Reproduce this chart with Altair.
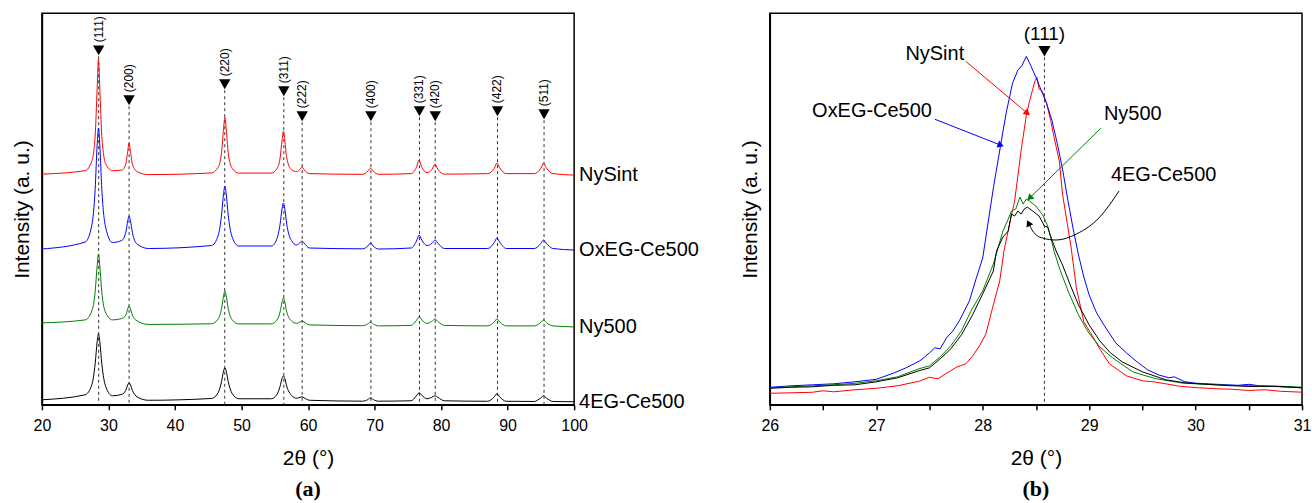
import altair as alt
import pandas as pd

SERIES = ["NySint", "OxEG-Ce500", "Ny500", "4EG-Ce500"]
COLORS = ["#ff0000", "#0000ff", "#008000", "#000000"]

# ---------------- Panel (a): stacked XRD patterns (y in arbitrary units) ----------------
A_X = [20, 26.5, 27.5, 28.0, 28.3, 28.5, 28.7, 29.0, 29.6, 30.6,
       32.0, 32.6, 32.9, 33.1, 33.3, 33.6, 34.3, 36.0,
       45.5, 46.5, 47.0, 47.3, 47.5, 47.7, 48.0, 48.6, 49.6,
       54.5, 55.3, 55.8, 56.1, 56.3, 56.5, 56.8, 57.5,
       58.3, 58.8, 59.1, 59.4, 60.2,
       68.2, 69.0, 69.4, 69.8, 70.6,
       75.5, 76.3, 76.7, 77.1, 77.9, 78.6, 79.1, 79.5, 80.5,
       87.0, 88.0, 88.4, 88.8, 89.8,
       94.0, 95.0, 95.4, 95.8, 96.8, 100]
A_NYSINT = [231, 234.5, 244, 269, 317, 346, 317, 269, 241, 234.5,
            235, 241, 254, 262, 254, 241, 233.5, 230.5,
            232.2, 238, 252.6, 276.4, 288, 276.4, 252.6, 236.8, 232,
            232, 236.2, 247.2, 265.2, 274, 265.2, 247.2, 235.5,
            233.5, 236, 238, 235.5, 231.5,
            230.8, 234, 237, 234, 230.8,
            231.5, 238, 245, 238, 232.5, 235.5, 241, 236, 231,
            231.5, 237, 242, 237.5, 231.5,
            231.5, 237, 242, 237.5, 231.5, 230]
A_OXEG = [156, 163, 180, 216, 260, 277, 260, 216, 177, 162.5,
          164.6, 172.5, 184.4, 189, 184.4, 172.5, 161, 156.5,
          159.5, 169.7, 190.2, 211.3, 219, 211.3, 190.2, 167.8, 159,
          159, 165.8, 180.9, 196.4, 202, 196.4, 180.9, 164.5,
          160, 162.5, 164, 162, 157,
          156.2, 159, 162, 159, 156,
          157, 164, 170, 165, 159.5, 161.5, 165, 162, 156.5,
          156.5, 162.5, 167, 163, 156.5,
          156.5, 161.5, 165, 162, 156.5, 155]
A_NY500 = [82, 85, 94, 113, 139, 151, 139, 113, 92, 85,
           86.4, 89.7, 96, 99, 96, 89.7, 84, 80.5,
           81.1, 86, 96.5, 109, 114, 109, 96.5, 85, 81,
           81, 84.6, 93, 103, 107, 103, 93, 84.2,
           81.5, 83, 84, 83, 80,
           79.2, 81, 83, 81, 79,
           79.5, 84.5, 88, 85, 81.5, 83.5, 86, 83.5, 79.5,
           79, 83, 86, 83, 79,
           79, 82.5, 85, 82.5, 79, 78]
A_4EG = [5, 10, 20, 41, 63, 71, 63, 41, 18, 9,
         10.4, 14.4, 20, 22, 20, 14.4, 7.9, 4.5,
         6.3, 12.2, 23.3, 33.7, 37, 33.7, 23.3, 11.2, 6,
         6, 10.1, 18.5, 26.5, 29, 26.5, 18.5, 9.6,
         6.5, 7.5, 8, 7, 4.5,
         3.6, 5.2, 7, 5.2, 3.6,
         4, 9, 12, 9.5, 6, 7.5, 9, 7.5, 4,
         3.5, 8, 11, 8, 3.5,
         3.3, 7, 9, 7, 3.3, 3]

HKL = ["(111)", "(200)", "(220)", "(311)", "(222)", "(400)", "(331)", "(420)", "(422)", "(511)"]
HKL_POS = [28.53, 33.1, 47.48, 56.36, 59.12, 69.45, 76.75, 79.12, 88.48, 95.48]
HKL_MARK = [355, 305, 321, 314, 289, 289, 294, 289, 294, 291]

A_TICKS = [20, 25, 30, 35, 40, 45, 50, 55, 60, 65, 70, 75, 80, 85, 90, 95, 100]

# ---------------- Panel (b): (111) peak zoom ----------------
B_NYSINT_X = [26.0, 26.2, 26.4, 26.5, 26.6, 26.8, 27.0, 27.2, 27.4, 27.5,
              27.58, 27.65, 27.7, 27.75, 27.84, 27.9, 27.97, 28.03, 28.09, 28.16,
              28.2, 28.25, 28.3, 28.36, 28.41, 28.44, 28.49, 28.51, 28.53, 28.56,
              28.6, 28.64, 28.67, 28.72, 28.75, 28.8, 28.83, 28.88, 28.95, 29.03,
              29.1, 29.19, 29.27, 29.35, 29.5, 29.6, 29.72, 29.85, 30.03, 30.2,
              30.35, 30.5, 30.65, 30.8, 31.0]
B_NYSINT_Y = [11.5, 12, 12.5, 14, 13, 15, 16.5, 19, 23.5, 27.5,
              26, 31, 34, 37.5, 41, 48, 59, 71, 96, 124,
              154, 180, 204, 254, 290, 304, 324, 328, 316, 314,
              302, 284, 268, 244, 211, 178, 158, 117, 83, 69,
              56, 41, 35, 29, 24, 23, 21, 18.5, 17, 16,
              15.5, 14.3, 15, 13.5, 12.6]
B_OXEG_X = [26.0, 26.2, 26.4, 26.6, 26.8, 27.0, 27.16, 27.28, 27.41, 27.5,
            27.55, 27.6, 27.66, 27.72, 27.78, 27.875, 27.94, 28.0, 28.1, 28.17,
            28.22, 28.28, 28.33, 28.37, 28.41, 28.45, 28.5, 28.55, 28.6, 28.65,
            28.7, 28.75, 28.8, 28.85, 28.9, 28.95, 29.0, 29.07, 29.15, 29.25,
            29.35, 29.45, 29.55, 29.65, 29.75, 29.8, 29.9, 30.0, 30.2, 30.4,
            30.5, 30.6, 30.8, 31.0]
B_OXEG_Y = [17.5, 19, 20, 21, 23, 25.5, 31.6, 37, 44, 52,
            57, 56, 67, 74, 84, 104, 127, 147, 217, 261,
            292, 322, 335, 340, 349, 340, 328, 315, 302, 285,
            262, 236, 205, 176, 150, 128, 110, 92, 78, 62,
            52, 43, 35, 30, 27, 28, 23, 21.6, 20.5, 19.5,
            20.5, 19, 18, 17]
B_NY500_X = [26.0, 26.2, 26.4, 26.6, 26.8, 27.0, 27.2, 27.4, 27.5,
             27.6, 27.7, 27.8, 27.9, 28.0, 28.1, 28.19, 28.24, 28.27, 28.31,
             28.35, 28.38, 28.41, 28.44, 28.5, 28.57, 28.61, 28.64, 28.67, 28.73,
             28.81, 28.9, 28.99, 29.1, 29.22, 29.41, 29.5, 29.63, 29.75, 29.88,
             30.1, 30.35, 30.6, 30.8, 31.0]
B_NY500_Y = [17, 18, 19, 20, 21.5, 24, 28, 36, 39,
             48, 59, 74, 96, 114, 141, 174, 186, 194, 196,
             208, 201, 206, 204, 199, 189, 179, 168, 154, 134,
             112, 90, 73, 58, 47, 33, 30, 26, 24, 21.6,
             20.5, 19.3, 19, 18.5, 17.6]
B_4EG_X = [26.0, 26.2, 26.4, 26.6, 26.8, 27.0, 27.2, 27.4, 27.5, 27.6,
           27.7, 27.8, 27.9, 28.0, 28.1, 28.13, 28.19, 28.24, 28.27, 28.3,
           28.33, 28.36, 28.39, 28.42, 28.47, 28.53, 28.58, 28.61, 28.64, 28.69,
           28.75, 28.83, 28.9, 29.0, 29.1, 29.2, 29.31, 29.5, 29.72, 29.9,
           30.03, 30.25, 30.5, 30.75, 31.0]
B_4EG_Y = [16.5, 17.5, 18, 19.5, 20, 23, 27, 34, 37, 46,
           56, 70, 89, 111, 134, 154, 168, 174, 191, 189,
           194, 191, 196, 198, 194, 189, 179, 178, 168, 154,
           140, 118, 100, 80, 64, 52, 43, 33, 25, 22,
           21, 19.5, 18.3, 18.5, 17]

B_PEAK_POS = 28.58
B_PEAK_MARK = 354
B_TEXT = ["(111)", "NySint", "OxEG-Ce500", "Ny500", "4EG-Ce500"]
B_TEXT_X = [28.58, 27.55, 26.96, 29.41, 29.70]
B_TEXT_Y = [371, 351, 294, 291, 230]
B_TEXT_SIZE = [19, 20, 20, 20, 20]

ARROW_GROUP = ["NySint"] * 2 + ["OxEG-Ce500"] * 2 + ["Ny500"] * 2 + ["4EG-Ce500"] * 7
ARROW_X = [27.84, 28.42, 27.55, 28.17, 29.11, 28.44, 29.28, 29.10, 28.88, 28.69, 28.56, 28.47, 28.43]
ARROW_Y = [344, 292, 286, 260, 277, 207, 214, 188, 171, 165, 167, 174, 182]
HEAD_GROUP = ["NySint", "OxEG-Ce500", "Ny500", "4EG-Ce500"]
HEAD_X = [28.42, 28.17, 28.44, 28.43]
HEAD_Y = [292, 260, 207, 182]
HEAD_ANGLE = [130, 111, 226, 334]

B_TICKS = [26, 26.5, 27, 27.5, 28, 28.5, 29, 29.5, 30, 30.5, 31]

# ---------------- build tables ----------------
def long_df(xs, ys_list):
    frames = []
    for name, xv, yv in zip(SERIES, xs, ys_list):
        frames.append(pd.DataFrame({"x": xv, "y": yv, "series": name}))
    return pd.concat(frames, ignore_index=True)

dfa = long_df([A_X] * 4, [A_NYSINT, A_OXEG, A_NY500, A_4EG])
dfb = long_df([B_NYSINT_X, B_OXEG_X, B_NY500_X, B_4EG_X],
              [B_NYSINT_Y, B_OXEG_Y, B_NY500_Y, B_4EG_Y])
hkl = pd.DataFrame({"hkl": HKL, "pos": HKL_POS, "mark": HKL_MARK})
ends = pd.DataFrame({"series": SERIES, "x": [A_X[-1]] * 4,
                     "y": [A_NYSINT[-1], A_OXEG[-1], A_NY500[-1], A_4EG[-1]]})
btext = pd.DataFrame({"t": B_TEXT, "x": B_TEXT_X, "y": B_TEXT_Y, "s": B_TEXT_SIZE})
arrows = pd.DataFrame({"g": ARROW_GROUP, "x": ARROW_X, "y": ARROW_Y, "i": list(range(len(ARROW_X)))})
heads = pd.DataFrame({"g": HEAD_GROUP, "x": HEAD_X, "y": HEAD_Y, "a": HEAD_ANGLE})
bpeak = pd.DataFrame({"x": [B_PEAK_POS], "y": [B_PEAK_MARK]})

FONT = "Liberation Sans"
W, H = 533, 392
color_scale = alt.Scale(domain=SERIES, range=COLORS)
INT_LABEL = "datum.value % 1 == 0 && datum.value % {step} == 0 ? format(datum.value, 'd') : ''"

# ---------------- panel (a) ----------------
xa = alt.X("x:Q", scale=alt.Scale(domain=[20, 100], nice=False, zero=False),
           axis=alt.Axis(values=A_TICKS, labelExpr=INT_LABEL.format(step=10),
                         tickSize=5, labelPadding=8, titlePadding=14, labelFlush=False,
                         title="2θ (°)"))
ya = alt.Y("y:Q", scale=alt.Scale(domain=[0, H], nice=False, zero=False),
           axis=alt.Axis(ticks=False, labels=False, title="Intensity (a. u.)", titlePadding=9))

a_rules = alt.Chart(hkl).mark_rule(strokeDash=[3, 3], color="#333333", strokeWidth=1).encode(
    x=alt.X("pos:Q"), y=alt.Y("mark:Q"), y2=alt.datum(0))
a_lines = alt.Chart(dfa).mark_line(strokeWidth=1, interpolate="monotone").encode(
    x=xa, y=ya, color=alt.Color("series:N", scale=color_scale, legend=None), detail="series:N")
a_tri = alt.Chart(hkl).mark_point(shape="triangle-down", filled=True, size=130, color="black",
                                  opacity=1).encode(x="pos:Q", y="mark:Q")
a_hkl = alt.Chart(hkl).mark_text(angle=270, align="left", baseline="middle", dx=8,
                                 fontSize=12, font=FONT, color="black").encode(
    x="pos:Q", y="mark:Q", text="hkl:N")
a_names = alt.Chart(ends).mark_text(align="left", baseline="middle", dx=5, fontSize=20,
                                    font=FONT, color="black").encode(
    x="x:Q", y="y:Q", text="series:N")

panel_a = alt.layer(a_rules, a_lines, a_tri, a_hkl, a_names).properties(
    width=W, height=H,
    title=alt.TitleParams("(a)", orient="bottom", anchor="middle", frame="group",
                          font="Liberation Serif", fontSize=22, fontWeight="bold",
                          offset=10, color="black"))

# ---------------- panel (b) ----------------
xb = alt.X("x:Q", scale=alt.Scale(domain=[26, 31], nice=False, zero=False),
           axis=alt.Axis(values=B_TICKS, labelExpr=INT_LABEL.format(step=1),
                         tickSize=5, labelPadding=8, titlePadding=14, labelFlush=False,
                         title="2θ (°)"))
yb = alt.Y("y:Q", scale=alt.Scale(domain=[0, H], nice=False, zero=False),
           axis=alt.Axis(ticks=False, labels=False, title="Intensity (a. u.)", titlePadding=9))

b_rule = alt.Chart(bpeak).mark_rule(strokeDash=[3, 3], color="#333333", strokeWidth=1).encode(
    x="x:Q", y="y:Q", y2=alt.datum(0))
b_lines = alt.Chart(dfb).mark_line(strokeWidth=1).encode(
    x=xb, y=yb, color=alt.Color("series:N", scale=color_scale, legend=None), detail="series:N")
b_tri = alt.Chart(bpeak).mark_point(shape="triangle-down", filled=True, size=150, color="black",
                                    opacity=1).encode(x="x:Q", y="y:Q")
b_text = alt.Chart(btext).mark_text(align="center", baseline="middle", font=FONT,
                                    color="black").encode(
    x="x:Q", y="y:Q", text="t:N", size=alt.Size("s:Q", scale=None, legend=None))
b_arrows = alt.Chart(arrows).mark_line(strokeWidth=1, interpolate="monotone").encode(
    x="x:Q", y="y:Q", color=alt.Color("g:N", scale=color_scale, legend=None),
    detail="g:N", order="i:Q")
b_heads = alt.Chart(heads).mark_point(shape="triangle-up", filled=True, size=55, opacity=1).encode(
    x="x:Q", y="y:Q", color=alt.Color("g:N", scale=color_scale, legend=None),
    angle=alt.Angle("a:Q", scale=None))

panel_b = alt.layer(b_rule, b_lines, b_tri, b_text, b_arrows, b_heads).properties(
    width=W, height=H,
    title=alt.TitleParams("(b)", orient="bottom", anchor="middle", frame="group",
                          font="Liberation Serif", fontSize=22, fontWeight="bold",
                          offset=10, color="black"))

chart = alt.hconcat(panel_a, panel_b, spacing=196, bounds="flush").properties(
    padding={"left": 11, "top": 12, "right": 0, "bottom": 5}
).configure_view(stroke="black", strokeWidth=1.5).configure_axis(
    grid=False, domainColor="black", domainWidth=1.5, tickColor="black", tickWidth=1.5,
    labelFont=FONT, titleFont=FONT, labelFontSize=16, titleFontSize=21,
    titleFontWeight="normal", labelColor="black", titleColor="black")

chart.save("out.html", embed_options={"renderer": "svg", "actions": False})
